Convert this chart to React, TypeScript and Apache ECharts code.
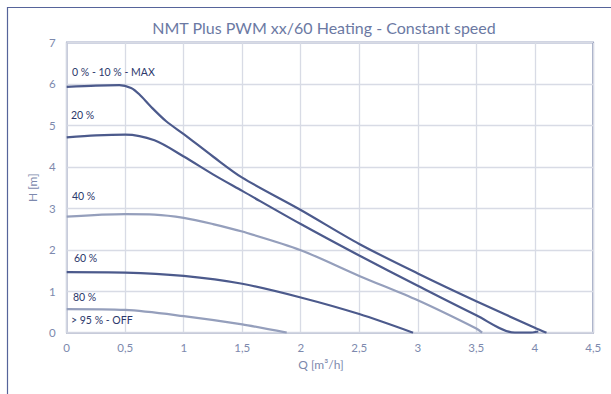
import React, { useEffect, useRef } from "react";
import * as echarts from "echarts";

const TITLE = "NMT Plus PWM xx/60 Heating - Constant speed";
const X_NAME = "Q [m³/h]";
const Y_NAME = "H [m]";

const maxQ = [0, 0.25, 0.45, 0.55, 0.62, 0.72, 0.85, 1.0, 1.25, 1.5, 2.0, 2.5, 3.0, 3.5, 4.0, 4.1];
const maxH = [5.93, 5.96, 5.97, 5.9, 5.75, 5.45, 5.1, 4.79, 4.25, 3.74, 2.96, 2.14, 1.43, 0.76, 0.12, 0];

const p20Q = [0, 0.25, 0.5, 0.75, 1.0, 1.25, 1.5, 2.0, 2.5, 3.0, 3.5, 3.83, 3.95, 4.03];
const p20H = [4.71, 4.76, 4.78, 4.64, 4.25, 3.82, 3.42, 2.62, 1.86, 1.13, 0.42, 0, 0, 0.03];

const p40Q = [0, 0.5, 0.75, 1.0, 1.25, 1.5, 2.0, 2.5, 3.0, 3.5, 3.55];
const p40H = [2.8, 2.86, 2.85, 2.77, 2.62, 2.44, 1.99, 1.37, 0.78, 0.1, 0];

const p60Q = [0, 0.5, 1.0, 1.5, 2.0, 2.5, 2.96];
const p60H = [1.46, 1.45, 1.37, 1.18, 0.85, 0.45, 0];

const p80Q = [0, 0.5, 1.0, 1.5, 1.88];
const p80H = [0.57, 0.55, 0.4, 0.2, 0];

const curveLabels = ["0 % - 10 % - MAX", "20 %", "40 %", "60 %", "80 %", "> 95 % - OFF"];

const DARK = "#4c5a8c";
const LIGHT = "#959fbc";
const TEXT = "#7d89ad";
const LABEL = "#2c386b";
const FONT = "Lato, 'Open Sans', sans-serif";

const zip = (q: number[], h: number[]) => q.map((v, i) => [v, h[i]]);

export default function App() {
  const ref = useRef<HTMLDivElement>(null);
  useEffect(() => {
    if (!ref.current) return;
    const chart = echarts.init(ref.current, null, { renderer: "svg" });
    const line = (data: number[][], color: string) => ({
      type: "line",
      data,
      smooth: 0.3,
      symbol: "none",
      lineStyle: { color, width: 2.2 },
      z: 5,
    });
    const labelPos = [
      [72, 72],
      [71, 115],
      [72, 196],
      [74, 258],
      [73, 297],
      [71, 320],
    ];
    chart.setOption({
      animation: false,
      backgroundColor: "#ffffff",
      textStyle: { fontFamily: FONT },
      title: {
        text: TITLE,
        left: 319,
        top: 14,
        textAlign: "center",
        textStyle: { color: "#6b79a3", fontSize: 16, fontWeight: "normal", fontFamily: FONT },
      },
      grid: {
        left: 66.7,
        top: 42.5,
        right: 17.7,
        bottom: 61.3,
        show: true,
        borderColor: "#3f4d84",
        borderWidth: 1.5,
      },
      xAxis: {
        type: "value",
        min: 0,
        max: 4.5,
        interval: 0.5,
        name: X_NAME,
        nameLocation: "middle",
        nameGap: 22,
        nameTextStyle: { color: TEXT, fontSize: 12, fontFamily: FONT, padding: [0, 18, 0, 0] },
        axisLine: { show: true, lineStyle: { color: "#d0d4e0", width: 1.5 } },
        axisTick: { show: false },
        axisLabel: {
          color: TEXT,
          fontSize: 11.5,
          margin: 9,
          formatter: (v: number) => String(v).replace(".", ","),
        },
        splitLine: { show: true, lineStyle: { color: "#d8dbe5", width: 1.3 } },
      },
      yAxis: {
        type: "value",
        min: 0,
        max: 7,
        interval: 1,
        name: Y_NAME,
        nameLocation: "middle",
        nameGap: 19,
        nameRotate: 90,
        nameTextStyle: { color: TEXT, fontSize: 12, fontFamily: FONT },
        axisLine: { show: true, lineStyle: { color: "#d0d4e0", width: 1.5 } },
        axisTick: { show: false },
        axisLabel: { color: TEXT, fontSize: 11.5, margin: 11 },
        splitLine: { show: true, lineStyle: { color: "#d8dbe5", width: 1.3 } },
      },
      graphic: [
        {
          type: "rect",
          shape: { x: 7.5, y: 7.5, width: 640, height: 420 },
          style: { fill: "none", stroke: "#56649a", lineWidth: 1.2 },
          silent: true,
        },
        ...curveLabels.map((t, i) => ({
          type: "text",
          x: labelPos[i][0],
          y: labelPos[i][1],
          style: {
            text: t,
            fill: LABEL,
            font: `10.5px ${FONT}`,
            verticalAlign: "middle",
          },
          z: 10,
        })),
      ],
      series: [
        line(zip(maxQ, maxH), DARK),
        line(zip(p20Q, p20H), DARK),
        line(zip(p40Q, p40H), LIGHT),
        line(zip(p60Q, p60H), DARK),
        line(zip(p80Q, p80H), LIGHT),
      ],
    });
    return () => chart.dispose();
  }, []);
  return <div ref={ref} style={{ width: 611, height: 394, position: "absolute", left: 0, top: 0 }} />;
}
